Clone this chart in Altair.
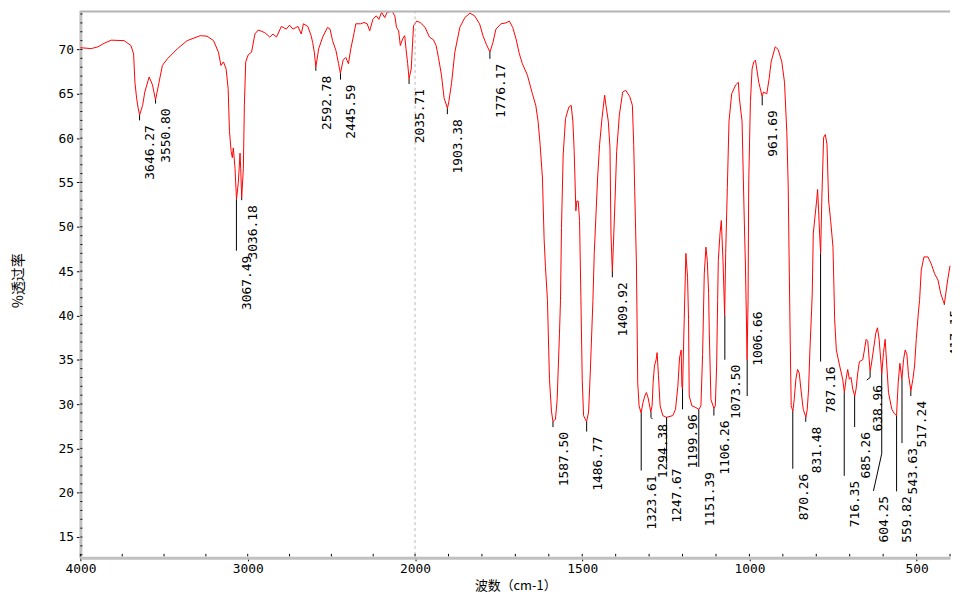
import altair as alt
import pandas as pd

# ---- spectrum (wavenumber cm-1, %T) ----
wavenumber = [
    4000, 3935, 3895, 3858, 3816, 3739, 3698, 3682, 3674, 3664, 3655, 3646, 3628, 3615, 3589, 3569,
    3551, 3530, 3510, 3480, 3421, 3362, 3283, 3243, 3204, 3175, 3160, 3145, 3129, 3117, 3109, 3099,
    3092, 3086, 3076, 3067, 3056, 3046, 3042, 3036, 3026, 3020, 3012, 2997, 2977, 2957, 2937, 2898,
    2868, 2849, 2828, 2799, 2769, 2750, 2730, 2700, 2680, 2667, 2641, 2621, 2612, 2602, 2593, 2576,
    2552, 2523, 2508, 2493, 2473, 2457, 2446, 2430, 2414, 2398, 2384, 2364, 2354, 2325, 2305, 2286,
    2271, 2252, 2232, 2216, 2200, 2181, 2167, 2137, 2121, 2111, 2098, 2088, 2074, 2062, 2054, 2044,
    2036, 2023, 2009, 1995, 1985, 1970, 1957, 1945, 1937, 1930, 1921, 1913, 1903, 1899, 1891, 1881,
    1866, 1851, 1836, 1822, 1807, 1797, 1787, 1776, 1767, 1758, 1743, 1728, 1718, 1708, 1698, 1688,
    1679, 1664, 1649, 1639, 1632, 1626, 1619, 1614, 1610, 1604, 1598, 1592, 1587.5, 1580, 1575, 1568,
    1565, 1562, 1557, 1550, 1540, 1533, 1528, 1524, 1519, 1516, 1512, 1508, 1504, 1500, 1496, 1491,
    1487, 1481, 1476, 1468, 1464, 1454, 1448, 1441, 1433, 1429, 1422, 1417, 1414, 1410, 1407, 1402,
    1397, 1389, 1379, 1370, 1358, 1350, 1346, 1343, 1338, 1336, 1334, 1330, 1324, 1318, 1313, 1308,
    1303, 1295, 1291, 1288, 1284, 1279, 1276, 1272, 1267, 1259, 1248, 1229, 1221, 1214, 1209, 1204,
    1202, 1200, 1195, 1190, 1185, 1182, 1180, 1172, 1160, 1151, 1145, 1140, 1135, 1130, 1126, 1122,
    1120, 1115, 1106, 1102, 1098, 1095, 1093, 1088, 1084, 1079, 1074, 1071, 1066, 1061, 1053, 1041,
    1033, 1030, 1022, 1016, 1012, 1009, 1007, 1004, 1002, 997, 992, 987, 982, 972, 962, 958,
    948, 941, 935, 923, 914, 903, 895, 888, 884, 881, 878, 875, 870, 866, 861, 856,
    851, 846, 839, 831, 827, 823, 819, 814, 812, 809, 804, 799, 796, 793, 790, 787,
    783, 778, 773, 768, 763, 757, 750, 747, 745, 740, 730, 721, 716, 711, 706, 701,
    696, 691, 685, 681, 676, 671, 661, 656, 651, 646, 639, 636, 629, 622, 617, 612,
    604, 599, 594, 589, 584, 574, 566, 560, 555, 550, 544, 539, 534, 529, 524, 517,
    511, 506, 501, 494, 491, 486, 478, 466, 456, 446, 436, 428, 421, 417, 407, 400,
]
transmittance = [
    70.2, 70.1, 70.3, 70.7, 71.05, 71.0, 70.45, 69.5, 66.3, 64.5, 63.4, 62.6, 63.7, 65.2, 66.9, 66.0,
    64.3, 66.3, 68.2, 68.95, 70.07, 71.0, 71.56, 71.5, 71.0, 69.7, 68.2, 68.6, 67.8, 65.6, 60.75, 58.5,
    57.8, 58.9, 56.6, 53.1, 55.0, 58.3, 56.6, 53.3, 56.6, 63.7, 68.6, 69.4, 69.7, 71.75, 72.2, 71.9,
    71.4, 71.75, 71.4, 72.6, 72.3, 72.75, 72.3, 72.6, 71.75, 72.9, 72.6, 71.56, 70.8, 69.7, 68.0, 70.07,
    71.4, 72.5, 72.3, 71.0, 69.9, 68.4, 67.3, 68.8, 69.1, 68.4, 70.07, 71.9, 72.9, 72.9, 73.05, 72.9,
    72.1, 73.4, 73.8, 73.4, 74.2, 73.6, 74.2, 74.3, 73.8, 72.5, 72.1, 70.45, 71.2, 71.56, 70.07, 68.4,
    66.7, 67.8, 72.7, 73.2, 73.05, 72.5, 71.4, 71.1, 70.45, 69.1, 67.1, 64.5, 63.36, 64.1, 66.15, 69.7,
    72.5, 73.6, 74.1, 73.8, 72.9, 71.56, 70.6, 69.7, 70.8, 72.3, 72.9, 73.0, 73.2, 72.5, 71.2, 69.5,
    68.4, 67.1, 65.0, 63.7, 61.9, 59.3, 55.5, 48.6, 45.5, 41.7, 32.8, 29.2, 28.0, 28.3, 30.5, 38.0,
    41.7, 49.9, 58.1, 62.2, 63.5, 63.7, 61.9, 58.5, 51.8, 52.9, 52.9, 50.7, 42.1, 32.8, 28.7, 28.3,
    28.0, 29.1, 33.5, 41.7, 47.0, 55.5, 59.3, 62.2, 64.85, 63.7, 61.9, 58.9, 49.2, 45.0, 47.7, 52.9,
    58.5, 62.6, 65.2, 65.4, 64.7, 63.7, 59.3, 54.0, 45.9, 39.5, 32.4, 29.8, 29.0, 30.2, 30.9, 31.3,
    30.7, 29.1, 29.8, 32.4, 34.3, 35.0, 35.8, 33.2, 29.8, 28.7, 28.5, 28.7, 29.4, 32.0, 35.2, 36.1,
    32.0, 31.7, 39.5, 47.0, 44.3, 39.5, 30.9, 29.8, 29.6, 29.4, 29.8, 35.6, 44.7, 47.7, 46.2, 42.5,
    38.0, 30.5, 29.5, 29.8, 34.3, 41.7, 46.2, 49.2, 50.7, 46.2, 40.0, 47.0, 54.4, 61.9, 65.0, 66.0,
    66.3, 64.5, 61.9, 51.8, 45.8, 39.7, 35.0, 41.7, 55.2, 64.1, 67.8, 68.6, 68.8, 66.3, 64.7, 65.2,
    65.0, 66.7, 68.6, 70.3, 70.0, 68.6, 66.3, 60.6, 54.6, 45.8, 37.3, 29.8, 29.2, 30.5, 32.8, 33.9,
    33.5, 31.7, 29.4, 28.5, 29.4, 31.7, 36.1, 40.6, 42.5, 49.2, 51.1, 52.9, 54.2, 51.8, 49.2, 47.0,
    53.7, 60.1, 60.4, 59.3, 52.9, 50.7, 47.7, 42.9, 39.5, 36.1, 34.3, 32.8, 31.3, 32.8, 33.9, 32.8,
    33.0, 31.7, 30.9, 31.7, 33.5, 34.8, 35.0, 36.1, 37.3, 37.1, 33.7, 34.3, 36.1, 38.0, 38.6, 37.3,
    33.4, 35.8, 37.3, 34.3, 31.3, 29.4, 28.9, 28.7, 32.4, 34.6, 32.8, 35.0, 36.1, 35.6, 33.2, 31.5,
    32.8, 34.3, 37.3, 40.6, 41.7, 45.1, 46.6, 46.6, 45.8, 44.7, 44.0, 42.5, 41.7, 41.3, 44.0, 45.6,
]

# ---- peak labels ----
peak_labels = ["3646.27", "3550.80", "3067.49", "3036.18", "2592.78", "2445.59", "2035.71", "1903.38",
               "1776.17", "1587.50", "1486.77", "1409.92", "1323.61", "1294.38", "1247.67", "1199.96",
               "1151.39", "1106.26", "1073.50", "1006.66", "961.69", "870.26", "831.48", "787.16",
               "716.35", "685.26", "638.96", "604.25", "559.82", "543.63", "517.24", "417.15"]
peak_t = [62.6, 64.3, 53.1, 53.3, 68.0, 67.3, 66.7, 63.36, 69.7, 28.0, 28.0, 45.0, 29.0, 29.1, 28.5, 31.7,
          29.4, 29.5, 40.0, 35.0, 64.7, 29.2, 28.5, 47.0, 31.3, 30.9, 33.7, 33.4, 28.7, 32.8, 31.5, 41.3]
end_t = [62.0, 63.9, 47.3, 53.0, 67.6, 66.6, 66.1, 62.7, 68.95, 27.4, 26.9, 44.3, 22.5, 28.3, 23.3, 29.4,
         22.9, 28.7, 35.0, 30.9, 63.7, 22.7, 28.0, 34.8, 21.9, 27.4, 32.7, 20.2, 20.15, 25.6, 30.9, 41.2]
bend_t = [62.0, 63.9, 47.3, 53.0, 67.6, 66.6, 66.1, 62.7, 68.95, 27.4, 26.9, 44.3, 22.5, 28.5, 23.3, 29.4,
          22.9, 28.7, 35.0, 30.9, 63.7, 22.7, 28.0, 34.8, 21.9, 27.4, 33.0, 24.4, 20.15, 25.6, 30.9, 41.2]
end_wn = [3646.27, 3550.80, 3067.49, 3036.18, 2592.78, 2445.59, 2035.71, 1903.38, 1776.17, 1587.50,
          1486.77, 1409.92, 1323.61, 1290.0, 1247.67, 1199.96, 1151.39, 1106.26, 1073.50, 1006.66,
          961.69, 870.26, 831.48, 787.16, 716.35, 685.26, 649.0, 629.0, 559.82, 543.63, 517.24, 417.15]
text_t = [62.0, 63.9, 47.3, 53.0, 67.6, 66.6, 66.1, 62.7, 68.95, 27.4, 26.9, 44.3, 22.5, 28.3, 23.3, 29.4,
          22.9, 28.7, 35.0, 41.0, 63.7, 22.7, 28.0, 34.8, 21.9, 27.4, 32.7, 20.2, 20.15, 25.6, 30.9, 41.2]

x_major = [4000, 3000, 2000, 1500, 1000, 500]
x_minor = [3750, 3500, 3250, 2750, 2500, 2250, 1900, 1800, 1700, 1600, 1400, 1300, 1200, 1100,
           900, 800, 700, 600, 400]
y_major = [15, 20, 25, 30, 35, 40, 45, 50, 55, 60, 65, 70]
y_minor = list(range(13, 75))

W, H = 877, 552
MONO = "DejaVu Sans Mono"
CJK = "Noto Sans CJK SC"
GRAY = "#c0c0c0"

spec = pd.DataFrame({"wn": wavenumber, "t": transmittance})

rows = []
for i, lab in enumerate(peak_labels):
    p = float(lab)
    rows.append({"label": lab, "o": 0, "wn": p, "t": peak_t[i]})
    rows.append({"label": lab, "o": 1, "wn": p, "t": bend_t[i]})
    rows.append({"label": lab, "o": 2, "wn": end_wn[i], "t": end_t[i]})
leaders = pd.DataFrame(rows)
texts = pd.DataFrame({"label": peak_labels, "wn": end_wn, "t": text_t})

xs = alt.Scale(domain=[4000, 2000, 400], range=[0, 337.5, W], zero=False, nice=False)
ys = alt.Scale(domain=[12.65, 74.4], zero=False, nice=False)

x_axis = alt.Axis(values=x_major, format="d", tickSize=3, tickColor="black", tickWidth=1,
                  domainColor=GRAY, domainWidth=3, labelFont=MONO, labelFontSize=13,
                  labelColor="black", labelPadding=2, labelFlush=False, labelOverlap=False,
                  grid=False, title="波数（cm-1）", titleFont=CJK, titleFontSize=13,
                  titleFontWeight="normal", titleColor="black", titleY=28,
                  titleBaseline="middle")
y_axis = alt.Axis(values=y_major, format="d", tickSize=4, tickColor="black", tickWidth=1,
                  domainColor=GRAY, domainWidth=3, labelFont=MONO, labelFontSize=13,
                  labelColor="black", labelPadding=3, labelFlush=False, labelOverlap=False,
                  grid=False, title="%透过率", titleFont=CJK, titleFontSize=14,
                  titleFontWeight="normal", titleColor="black", titleX=-62, titleY=272,
                  titleAngle=270, titleAlign="center", titleBaseline="middle")


def X(field="wn:Q"):
    return alt.X(field, scale=xs, axis=x_axis)


def Y(field="t:Q"):
    return alt.Y(field, scale=ys, axis=y_axis)


curve = alt.Chart(spec).mark_line(color="#ff0000", strokeWidth=1).encode(
    x=X(), y=Y(), order="wn:Q",
)

dash2000 = alt.Chart(pd.DataFrame({"wn": [2000]})).mark_rule(
    color="#b8b8b8", strokeDash=[3, 3], strokeWidth=1
).encode(x=X(), y=alt.value(0), y2=alt.value(H))

top_border = alt.Chart(pd.DataFrame({"a": [0]})).mark_rule(color="#b4b4b4", strokeWidth=2).encode(
    x=alt.value(0), x2=alt.value(W), y=alt.value(1)
)

xticks = alt.Chart(pd.DataFrame({"wn": x_minor + x_major})).mark_rule(
    color="black", strokeWidth=1
).encode(x=X(), y=alt.value(H - 4), y2=alt.value(H - 1.5))

yticks = alt.Chart(pd.DataFrame({"t": y_minor})).mark_rule(color="black", strokeWidth=1).encode(
    y=Y(), x=alt.value(0), x2=alt.value(2)
)

leader_lines = alt.Chart(leaders).mark_line(color="black", strokeWidth=1).encode(
    x=X(), y=Y(), detail="label:N", order="o:Q",
)

label_text = alt.Chart(texts).mark_text(
    angle=270, align="right", baseline="middle", dx=-5, dy=11,
    font=MONO, fontSize=13, color="black"
).encode(x=X(), y=Y(), text="label:N")

chart = alt.layer(
    curve, dash2000, top_border, leader_lines, label_text, xticks, yticks
).properties(
    width=W, height=H,
    autosize=alt.AutoSizeParams(type="none"),
    padding={"left": 73, "top": 0, "right": 2, "bottom": 40},
    background="white",
).configure_view(stroke=None)

chart.save("out.html", embed_options={"renderer": "svg", "actions": False})
